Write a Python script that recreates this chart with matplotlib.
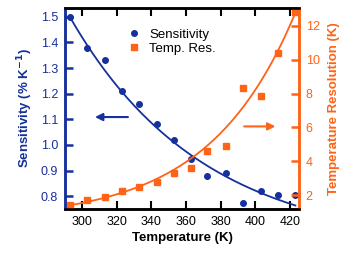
import numpy as np
import matplotlib
matplotlib.use('Agg')
import matplotlib.pyplot as plt

plt.rcParams['font.family'] = ['Liberation Sans', 'DejaVu Sans']

# measured points
temperature = [293, 303, 313, 323, 333, 343, 353, 363, 372, 383, 393, 403, 413, 423]
sensitivity = [1.50, 1.38, 1.33, 1.21, 1.16, 1.08, 1.02, 0.945, 0.88, 0.89, 0.775, 0.82, 0.805, 0.805]
temp_res = [1.4, 1.7, 1.9, 2.25, 2.5, 2.8, 3.3, 3.6, 4.6, 4.9, 8.35, 7.85, 10.4, 12.8]

# fitted trend lines (offset + exponential), parameters
sens_fit = (0.6, 0.9, -0.0131)
res_fit = (0.5, 0.9, 0.0201)

blue = '#16309c'
orange = '#ff6316'

fig = plt.figure(figsize=(3.52, 2.54), dpi=100)
ax = fig.add_axes([0.185, 0.177, 0.664, 0.792])
ax2 = ax.twinx()

t = np.linspace(temperature[0], temperature[-1], 200)
ax.plot(t, sens_fit[0] + sens_fit[1] * np.exp(sens_fit[2] * (t - 293)), color=blue, lw=1.3)
ax2.plot(t, res_fit[0] + res_fit[1] * np.exp(res_fit[2] * (t - 293)), color=orange, lw=1.3)

ax.plot(temperature, sensitivity, 'o', color=blue, ms=4, label='Sensitivity')
ax2.plot(temperature, temp_res, 's', color=orange, ms=4, label='Temp. Res.')

ax.set_xlim(290.3, 425)
ax.set_ylim(0.75, 1.535)
ax2.set_ylim(1.18, 13.06)
ax.set_xticks(range(300, 421, 20))
ax.set_yticks(np.arange(0.8, 1.51, 0.1))
ax2.set_yticks(range(2, 13, 2))

ax.tick_params(axis='x', direction='in', top=True, length=6, width=1.5, labelsize=9, pad=5)
ax.tick_params(axis='y', direction='in', length=6, width=1.8, color=blue, labelcolor=blue, labelsize=9, pad=5)
ax2.tick_params(axis='y', direction='in', length=6, width=1.8, color=orange, labelcolor=orange, labelsize=9, pad=5)

for a in (ax, ax2):
    a.spines['top'].set_linewidth(1.8)
    a.spines['bottom'].set_linewidth(1.8)
    a.spines['left'].set_color(blue)
    a.spines['left'].set_linewidth(1.8)
    a.spines['right'].set_color(orange)
    a.spines['right'].set_linewidth(1.8)

ax.set_xlabel('Temperature (K)', fontweight='bold', fontsize=9.5, labelpad=3)
ax.set_ylabel('Sensitivity (% K$^{\\mathbf{-1}}$)', fontweight='bold', fontsize=9.5, color=blue, labelpad=4)
ax2.set_ylabel('Temperature Resolution (K)', fontweight='bold', fontsize=9.5, color=orange, labelpad=6)

ax.annotate('', xy=(307.5, 1.109), xytext=(326.5, 1.109),
            arrowprops=dict(arrowstyle='-|>', color=blue, lw=1.5, mutation_scale=11,
                            shrinkA=0, shrinkB=0))
ax2.annotate('', xy=(411.5, 6.06), xytext=(393.5, 6.06),
             arrowprops=dict(arrowstyle='-|>', color=orange, lw=1.5, mutation_scale=11,
                             shrinkA=0, shrinkB=0))

h1, l1 = ax.get_legend_handles_labels()
h2, l2 = ax2.get_legend_handles_labels()
ax2.legend(h1 + h2, l1 + l2, loc='upper left', bbox_to_anchor=(0.24, 0.93), frameon=False,
           fontsize=9.5, handlelength=1, handletextpad=0.6, labelspacing=0.15, borderpad=0)

fig.savefig('out.png', dpi=100)
